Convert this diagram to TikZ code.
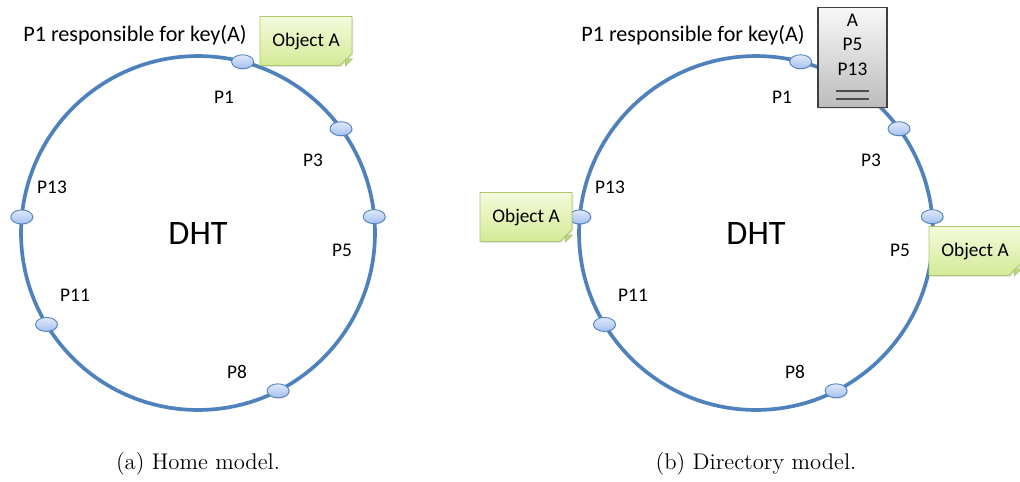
\documentclass[tikz,border=0pt]{standalone}
\usepackage{fontspec}
\newfontfamily\calibri{Carlito}
\usetikzlibrary{shapes.geometric,shapes.misc,shadows,positioning}

\definecolor{ringblue}{RGB}{79,129,189}
\definecolor{peerlight}{RGB}{224,233,250}
\definecolor{peerdark}{RGB}{163,192,240}
\definecolor{notelight}{RGB}{244,250,220}
\definecolor{notedark}{RGB}{212,234,150}
\definecolor{noteline}{RGB}{172,200,110}
\definecolor{notefold}{RGB}{190,214,130}
\definecolor{dirlight}{RGB}{248,248,248}
\definecolor{dirdark}{RGB}{188,188,188}

\begin{document}
\begin{tikzpicture}[x=0.02cm,y=-0.02cm,
    ring/.style={draw=ringblue,line width=2.1pt},
    peer/.style={ellipse,draw=ringblue,line width=0.5pt,top color=peerlight,bottom color=peerdark,
      minimum width=0.44cm,minimum height=0.28cm,inner sep=0pt,
      drop shadow={opacity=0.2,shadow xshift=0.6pt,shadow yshift=-0.6pt}},
    plabel/.style={font=\calibri\fontsize{11}{13}\selectfont},
    keylabel/.style={font=\calibri\fontsize{12.6}{15}\selectfont},
    dht/.style={font=\calibri\fontsize{19.5}{22}\selectfont},
    note/.style={chamfered rectangle,chamfered rectangle corners=south east,chamfered rectangle xsep=4pt,
      draw=noteline,line width=0.5pt,top color=notelight,bottom color=notedark,
      minimum width=1.84cm,minimum height=0.98cm,inner sep=2pt,font=\calibri\fontsize{11}{13}\selectfont,
      drop shadow={opacity=0.2,shadow xshift=0.8pt,shadow yshift=-0.8pt}},
    fold/.style={fill=notefold,draw=noteline,line width=0.4pt},
    dirbox/.style={rectangle,draw=black!75,line width=0.6pt,top color=dirlight,bottom color=dirdark,
      minimum width=1.38cm,minimum height=1.98cm,inner sep=0pt,align=center,
      font=\calibri\fontsize{11}{14}\selectfont,
      drop shadow={opacity=0.2,shadow xshift=0.8pt,shadow yshift=-0.8pt}},
    dirline/.style={draw=black!70,line width=0.8pt},
    caption/.style={font=\fontsize{12.9}{15}\selectfont}]

  \useasboundingbox (0,0) rectangle (1020,481);

  % the two rings
  \foreach \p/\dx/\cap in {a/0/Home model., b/558/Directory model.}{
    \begin{scope}[shift={(\dx,0)}]
      \coordinate (\p c) at (198,233);
      \draw[ring] (\p c) circle [radius=3.54cm];
      \foreach \ang/\n in {75.4/1, 36.1/3, 5.3/5, -63.1/8, 211.1/11, 174.8/13}
        \node[peer] (\p\n) at ([shift={(\ang:3.54cm)}]\p c) {};
      \foreach \n/\x/\y in {1/224/97, 3/313/160, 5/342/250, 8/237/372, 11/75/295, 13/52/187}
        \node[plabel] (\p l\n) at (\x,\y) {P\n};
      \node[keylabel] (\p key) at (135,35) {P1 responsible for key(A)};
      \node[dht] (\p dht) at (\p c) {DHT};
      \node[caption] (\p cap) at (198,464) {(\p) \cap};
    \end{scope}
  }

  % home model
  \node[note] (aobj) at (306,41) {Object A};

  % directory model
  \node[dirbox] (bdir) at (852.5,57.5) {\rule{0pt}{10.5pt}A\\P5\\P13\\\strut};
  \draw[dirline] ([shift={(-0.33cm,-0.67cm)}]bdir.center) -- ([shift={(0.33cm,-0.67cm)}]bdir.center);
  \draw[dirline] ([shift={(-0.33cm,-0.83cm)}]bdir.center) -- ([shift={(0.33cm,-0.83cm)}]bdir.center);
  \node[note] (bobjl) at (526,217) {Object A};
  \node[note] (bobjr) at (975,251) {Object A};

  % folded corners
  \foreach \n in {aobj, bobjl, bobjr}
    \draw[fold] ([yshift=4pt]\n.south -| \n.east) -- ([xshift=-4pt]\n.south -| \n.east)
      -- ([shift={(-4pt,4pt)}]\n.south -| \n.east) -- cycle;

\end{tikzpicture}
\end{document}
